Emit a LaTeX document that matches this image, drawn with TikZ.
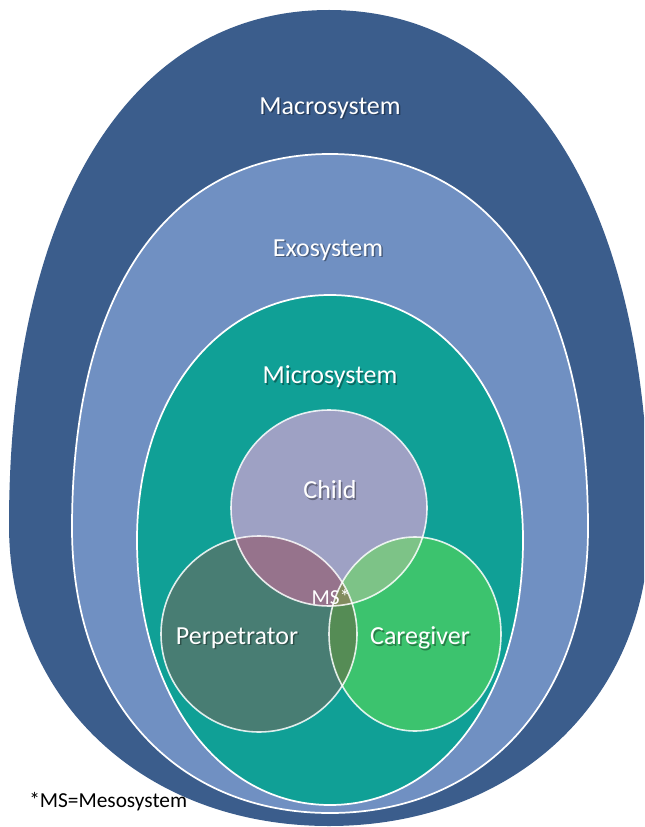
\documentclass[tikz,border=0pt]{standalone}
\usepackage{fontspec}
\setmainfont{Carlito}
\usetikzlibrary{calc}

\definecolor{macroblue}{HTML}{3B5D8C}
\definecolor{exoblue}{HTML}{7090C2}
\definecolor{microteal}{HTML}{10A096}
\definecolor{childlav}{HTML}{9EA1C4}
\definecolor{perpgreen}{HTML}{487D73}
\definecolor{caregreen}{HTML}{3CC36E}
\definecolor{cpmauve}{HTML}{96738C}
\definecolor{cclight}{HTML}{7DC387}
\definecolor{pcgreen}{HTML}{558C55}
\definecolor{msolive}{HTML}{828C5F}

% cx cy rx rtop rbot ktop kbot
\newcommand{\eggpath}[7]{({#1-#3},#2)
  .. controls ({#1-#3},{#2-#6*#4}) and ({#1-#6*#3},{#2-#4}) .. (#1,{#2-#4})
  .. controls ({#1+#6*#3},{#2-#4}) and ({#1+#3},{#2-#6*#4}) .. ({#1+#3},#2)
  .. controls ({#1+#3},{#2+#7*#5}) and ({#1+#7*#3},{#2+#5}) .. (#1,{#2+#5})
  .. controls ({#1-#7*#3},{#2+#5}) and ({#1-#3},{#2+#7*#5}) .. ({#1-#3},#2) -- cycle}
\newcommand{\syslabel}[4]{%
  \node[txtshadow] at ({#2+1.5},{#3+1.5}) {#4};
  \node[syslbl] (#1) at (#2,#3) {#4};}

\begin{document}
\begin{tikzpicture}[x=0.75pt, y=-0.75pt,
  syslbl/.style={text=white, font=\fontsize{19.5}{22}\selectfont, inner sep=0pt},
  txtshadow/.style={syslbl, text=black, text opacity=0.35},
  ring/.style={draw=white, line width=1.3pt},
  vennline/.style={draw=white, draw opacity=0.85, line width=1.2pt}]
  \useasboundingbox (0,0) rectangle (644,827);
  \clip (0,0) rectangle (644,827);

  % nested systems
  \fill[macroblue] \eggpath{329}{525}{320}{515}{301}{0.62}{0.58};
  \path[ring, fill=exoblue] \eggpath{330}{528}{258}{374}{285}{0.63}{0.6};
  \path[ring, fill=microteal] \eggpath{330}{540}{193}{245}{265}{0.58}{0.58};

  % venn circles
  \coordinate (C) at (329,508);
  \coordinate (P) at (259,634);
  \coordinate (G) at (415,634);
  \fill[childlav] (C) circle (98);
  \fill[perpgreen] (P) circle (98);
  \fill[caregreen] (G) ellipse [x radius=86, y radius=97];
  \begin{scope}
    \clip (C) circle (98);
    \fill[cpmauve] (P) circle (98);
    \fill[cclight] (G) ellipse [x radius=86, y radius=97];
  \end{scope}
  \begin{scope}
    \clip (P) circle (98);
    \fill[pcgreen] (G) ellipse [x radius=86, y radius=97];
    \clip (C) circle (98);
    \fill[msolive] (G) ellipse [x radius=86, y radius=97];
  \end{scope}
  \draw[vennline] (C) circle (98);
  \draw[vennline] (P) circle (98);
  \draw[vennline] (G) ellipse [x radius=86, y radius=97];

  % labels
  \syslabel{macro}{330}{108}{Macrosystem}
  \syslabel{exo}{328}{250}{Exosystem}
  \syslabel{micro}{330}{377}{Microsystem}
  \syslabel{child}{330}{490}{Child}
  \syslabel{perp}{237}{638}{Perpetrator}
  \syslabel{care}{420}{638}{Caregiver}
  \node[syslbl, font=\fontsize{16}{18}\selectfont] (ms) at (331,597) {MS*};
  \node[font=\fontsize{16}{18}\selectfont, anchor=west, inner sep=0pt] (note) at (29,802) {*MS=Mesosystem};
\end{tikzpicture}
\end{document}
